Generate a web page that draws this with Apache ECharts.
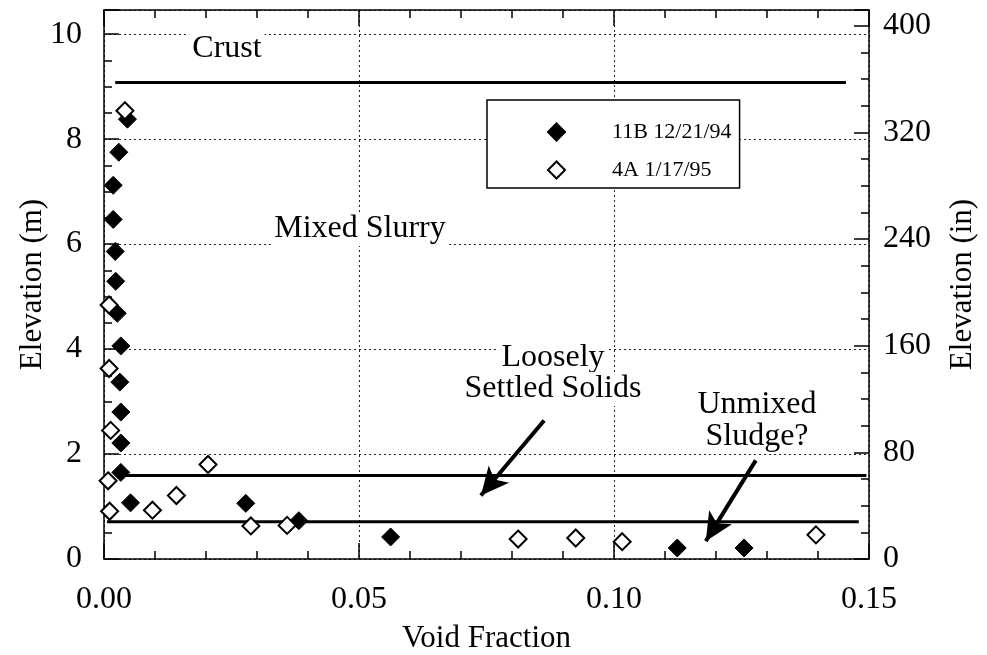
<!DOCTYPE html>
<html>
<head>
<meta charset="utf-8">
<script src="https://cdn.jsdelivr.net/npm/echarts@6/dist/echarts.min.js"></script>
<style>
html, body { margin: 0; padding: 0; background: #fff; }
#chart1 { width: 987px; height: 655px; }
</style>
</head>
<body>
<div id="chart1"></div>
<script>
// data: [void fraction, elevation (m)]
var tank11B = [
    [0.0046, 8.38], [0.0029, 7.75], [0.0018, 7.12], [0.0018, 6.47],
    [0.0022, 5.86], [0.0023, 5.29], [0.0026, 4.68], [0.0033, 4.06],
    [0.0031, 3.37], [0.0033, 2.80], [0.0033, 2.21], [0.0033, 1.65],
    [0.0052, 1.07], [0.0278, 1.06], [0.0382, 0.73], [0.0562, 0.42],
    [0.1124, 0.21], [0.1255, 0.21]
];
var tank4A = [
    [0.0041, 8.54], [0.0010, 4.84], [0.0010, 3.63], [0.0013, 2.45],
    [0.0008, 1.49], [0.0204, 1.80], [0.0142, 1.21], [0.0011, 0.91],
    [0.0095, 0.93], [0.0288, 0.63], [0.0359, 0.64], [0.0812, 0.38],
    [0.0925, 0.40], [0.1016, 0.33], [0.1396, 0.46]
];
var legendNames = ['11B 12/21/94', '4A 1/17/95'];

// zone boundaries
var crustLine = [[0.0022, 9.08], [0.1455, 9.08]];
var looseLine = [[0.0030, 1.59], [0.1495, 1.59]];
var sludgeLine = [[0.0006, 0.71], [0.1480, 0.71]];

// arrows [from, to]
var arrowLoose = [[0.0863, 2.64], [0.0739, 1.21]];
var arrowSludge = [[0.1278, 1.88], [0.1180, 0.34]];

var yMaxM = 10.46;
var yMaxIn = yMaxM * 39.37;

var font = 'Liberation Serif, Times New Roman, serif';
var gridDot = {show: true, lineStyle: {color: '#222', width: 1, type: [2, 3]}};

var myChart1 = echarts.init(document.getElementById('chart1'));

function hLine(pts) {
    return {
        type: 'line',
        data: pts,
        symbol: 'none',
        silent: true,
        z: 2,
        lineStyle: {color: '#000', width: 3}
    };
}

function arrow(pts) {
    return [
        {coord: pts[0], symbol: 'none'},
        {coord: pts[1], symbol: 'arrow', symbolSize: [20, 28]}
    ];
}

function note(text, x, y) {
    return {
        type: 'text', x: x, y: y, z: 50,
        style: {text: text, fontFamily: font, fontSize: 32, fill: '#000',
            align: 'center', verticalAlign: 'middle',
            backgroundColor: '#fff', padding: [1, 3, 1, 3]}
    };
}

var option1 = {
    animation: false,
    backgroundColor: '#fff',
    textStyle: {fontFamily: font, color: '#000'},
    grid: {left: 104, right: 118, top: 10, bottom: 96, containLabel: false, outerBoundsMode: 'none'},
    legend: {
        left: 487,
        top: 100,
        orient: 'vertical',
        data: legendNames,
        itemWidth: 17,
        itemHeight: 17,
        itemGap: 16,
        padding: [21, 8, 7, 60],
        borderColor: '#000',
        borderWidth: 1.5,
        backgroundColor: '#fff',
        textStyle: {fontFamily: font, fontSize: 22, color: '#000', padding: [0, 0, 0, 42]}
    },
    xAxis: [
        {
            type: 'value',
            position: 'bottom',
            min: 0,
            max: 0.15,
            interval: 0.05,
            name: 'Void Fraction',
            nameLocation: 'middle',
            nameGap: 64,
            nameMoveOverlap: false,
            nameTextStyle: {fontFamily: font, fontSize: 31, color: '#000'},
            axisLine: {onZero: false, lineStyle: {color: '#000', width: 1.5}},
            axisTick: {inside: true, length: 16, lineStyle: {color: '#000', width: 1.5}},
            minorTick: {show: true, splitNumber: 5, length: 8, lineStyle: {color: '#000', width: 1.5}},
            axisLabel: {fontFamily: font, fontSize: 32, color: '#000', margin: 25,
                formatter: function (v) { return v.toFixed(2); }},
            splitLine: gridDot
        },
        {
            type: 'value',
            position: 'top',
            min: 0,
            max: 0.15,
            interval: 0.05,
            axisLine: {onZero: false, lineStyle: {color: '#000', width: 1.5}},
            axisTick: {inside: true, length: 16, lineStyle: {color: '#000', width: 1.5}},
            minorTick: {show: true, splitNumber: 5, length: 8, lineStyle: {color: '#000', width: 1.5}},
            axisLabel: {show: false},
            splitLine: {show: false}
        }
    ],
    yAxis: [
        {
            type: 'value',
            position: 'left',
            min: 0,
            max: yMaxM,
            interval: 2,
            name: 'Elevation (m)',
            nameLocation: 'middle',
            nameGap: 56,
            nameMoveOverlap: false,
            nameTextStyle: {fontFamily: font, fontSize: 31, color: '#000'},
            axisLine: {onZero: false, lineStyle: {color: '#000', width: 1.5}},
            axisTick: {inside: true, length: 15, lineStyle: {color: '#000', width: 1.5}},
            minorTick: {show: true, splitNumber: 4, length: 8, lineStyle: {color: '#000', width: 1.5}},
            axisLabel: {fontFamily: font, fontSize: 32, color: '#000', margin: 22, showMaxLabel: false},
            splitLine: gridDot
        },
        {
            type: 'value',
            position: 'right',
            min: 0,
            max: yMaxIn,
            interval: 80,
            name: 'Elevation (in)',
            nameLocation: 'middle',
            nameGap: 78,
            nameRotate: 90,
            nameMoveOverlap: false,
            nameTextStyle: {fontFamily: font, fontSize: 31, color: '#000'},
            axisLine: {onZero: false, lineStyle: {color: '#000', width: 1.5}},
            axisTick: {inside: true, length: 15, lineStyle: {color: '#000', width: 1.5}},
            minorTick: {show: true, splitNumber: 4, length: 8, lineStyle: {color: '#000', width: 1.5}},
            axisLabel: {fontFamily: font, fontSize: 32, color: '#000', margin: 14, showMaxLabel: false},
            splitLine: {show: false}
        }
    ],
    graphic: [
        note('Crust', 227, 49),
        note('Mixed Slurry', 360, 229),
        note('Loosely', 553, 358),
        note('Settled Solids', 553, 389),
        note('Unmixed', 757, 405),
        note('Sludge?', 757, 437)
    ],
    series: [
        hLine(crustLine),
        hLine(looseLine),
        hLine(sludgeLine),
        {
            type: 'line',
            data: [],
            silent: true,
            markLine: {
                silent: true,
                animation: false,
                label: {show: false},
                lineStyle: {color: '#000', width: 4, type: 'solid'},
                data: [arrow(arrowLoose), arrow(arrowSludge)]
            }
        },
        {
            name: legendNames[0],
            type: 'scatter',
            data: tank11B,
            symbol: 'diamond',
            symbolSize: 18,
            z: 5,
            itemStyle: {color: '#000', borderColor: '#000', borderWidth: 1, opacity: 1}
        },
        {
            name: legendNames[1],
            type: 'scatter',
            data: tank4A,
            symbol: 'diamond',
            symbolSize: 17,
            z: 5,
            itemStyle: {color: '#fff', borderColor: '#000', borderWidth: 2, opacity: 1}
        }
    ]
};
myChart1.setOption(option1);
</script>
</body>
</html>
